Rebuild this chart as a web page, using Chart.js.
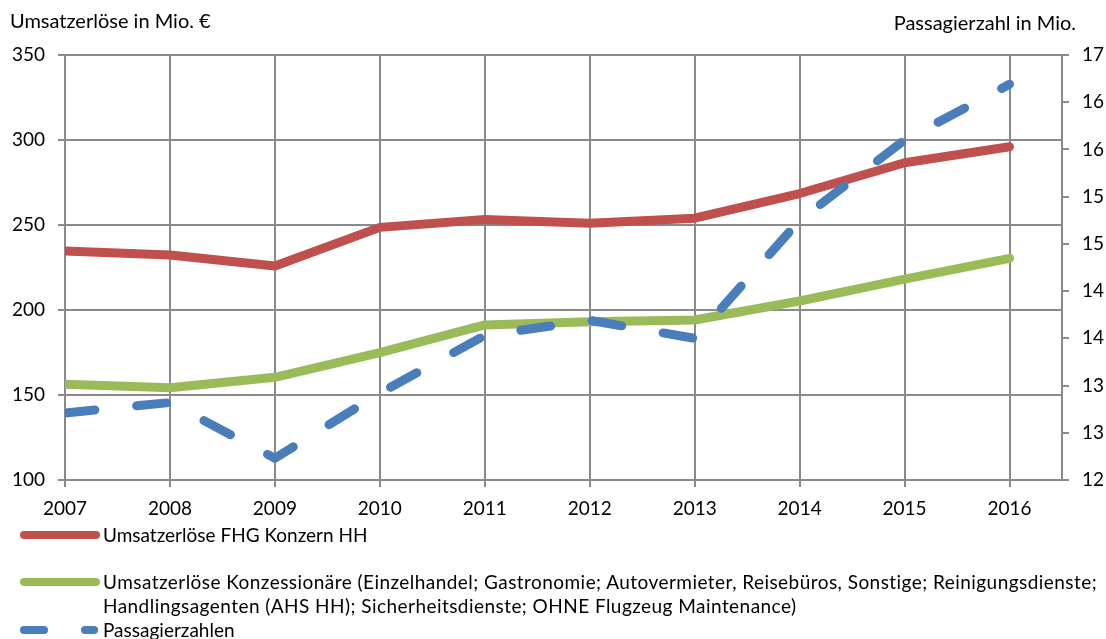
<!DOCTYPE html>
<html lang="de">
<head>
    <meta charset="UTF-8">
    <title>Umsatzerlöse und Passagierzahlen</title>
    <script src="https://cdn.jsdelivr.net/npm/chart.js"></script>
    <style>
        body {
            margin: 0;
            background: #fff;
            font-family: Lato, "Liberation Sans", sans-serif;
            color: #000;
        }
        .wrap {
            position: relative;
            width: 1106px;
            height: 639px;
        }
        .wrap canvas {
            position: absolute;
            left: 0;
            top: 0;
        }
        .axis-title {
            position: absolute;
            font-size: 20px;
            line-height: 22px;
            white-space: nowrap;
        }
        .legend-item {
            position: absolute;
            left: 0;
            width: 1106px;
        }
        .legend-line {
            position: absolute;
            height: 8px;
            border-radius: 4px;
        }
        .legend-text {
            position: absolute;
            left: 103px;
            font-size: 19px;
            line-height: 24px;
            white-space: nowrap;
        }
    </style>
</head>
<body>
    <div class="wrap">
        <canvas id="chart" width="1106" height="639"></canvas>
        <div class="axis-title" style="left:10px; top:9px;">Umsatzerlöse in Mio. €</div>
        <div class="axis-title" style="right:30px; top:11px;">Passagierzahl in Mio.</div>
        <div id="legend"></div>
    </div>

    <script>
        // values
        const years = [2007, 2008, 2009, 2010, 2011, 2012, 2013, 2014, 2015, 2016];
        const umsatzFHG = [234.7, 232.4, 225.9, 248.6, 253.3, 251.0, 254.0, 268.5, 286.6, 296.0];
        const umsatzKonzessionaere = [156.3, 154.3, 160.4, 174.9, 191.2, 193.1, 194.1, 205.3, 218.2, 230.4];
        const passagiere = [12.71, 12.82, 12.23, 12.92, 13.53, 13.69, 13.50, 14.75, 15.60, 16.19];

        const labelFHG = 'Umsatzerlöse FHG Konzern HH';
        const labelKonz = 'Umsatzerlöse Konzessionäre (Einzelhandel; Gastronomie; Autovermieter, Reisebüros, Sonstige; Reinigungsdienste;\nHandlingsagenten (AHS HH); Sicherheitsdienste; OHNE Flugzeug Maintenance)';
        const labelPax = 'Passagierzahlen';

        const red = '#C0504D';
        const green = '#9BBB59';
        const blue = '#4A7EBB';
        const gridColor = '#8A8A8A';
        const tickFont = { family: 'Lato', size: 19 };

        const toPoints = vals => vals.map((v, i) => ({ x: years[i], y: v }));

        const ctx = document.getElementById('chart').getContext('2d');
        const chart = new Chart(ctx, {
            type: 'line',
            data: {
                datasets: [
                    {
                        label: labelPax,
                        data: toPoints(passagiere),
                        yAxisID: 'y1',
                        borderColor: blue,
                        borderWidth: 9,
                        borderDash: [30, 42],
                        borderCapStyle: 'round',
                        borderJoinStyle: 'round',
                        pointRadius: 0,
                        order: 0
                    },
                    {
                        label: labelFHG,
                        data: toPoints(umsatzFHG),
                        yAxisID: 'y',
                        borderColor: red,
                        borderWidth: 9,
                        borderCapStyle: 'round',
                        borderJoinStyle: 'round',
                        pointRadius: 0,
                        order: 1
                    },
                    {
                        label: labelKonz,
                        data: toPoints(umsatzKonzessionaere),
                        yAxisID: 'y',
                        borderColor: green,
                        borderWidth: 9,
                        borderCapStyle: 'round',
                        borderJoinStyle: 'round',
                        pointRadius: 0,
                        order: 2
                    }
                ]
            },
            options: {
                responsive: false,
                animation: false,
                devicePixelRatio: 1,
                layout: {
                    padding: { left: 0, right: 0, top: 55, bottom: 114 }
                },
                plugins: {
                    legend: { display: false },
                    tooltip: { enabled: false }
                },
                scales: {
                    x: {
                        type: 'linear',
                        min: 2007,
                        max: 2016.5,
                        afterBuildTicks: scale => {
                            scale.ticks = years.map(v => ({ value: v }));
                        },
                        afterFit: scale => { scale.height = 45; },
                        grid: { color: gridColor, lineWidth: 2, tickLength: 7 },
                        border: { color: gridColor, width: 2 },
                        ticks: {
                            font: tickFont,
                            color: '#000',
                            padding: 10,
                            maxRotation: 0,
                            callback: v => String(v)
                        }
                    },
                    y: {
                        position: 'left',
                        min: 100,
                        max: 350,
                        afterFit: scale => { scale.width = 65; },
                        grid: { color: gridColor, lineWidth: 2, tickLength: 7 },
                        border: { color: gridColor, width: 2 },
                        ticks: {
                            stepSize: 50,
                            font: tickFont,
                            color: '#000',
                            padding: 13
                        }
                    },
                    y1: {
                        position: 'right',
                        min: 12,
                        max: 16.5,
                        afterFit: scale => { scale.width = 44; },
                        grid: { drawOnChartArea: false, color: gridColor, lineWidth: 2, tickLength: 7 },
                        border: { color: gridColor, width: 2 },
                        ticks: {
                            stepSize: 0.5,
                            font: tickFont,
                            color: '#000',
                            padding: 13,
                            callback: v => String(Math.round(v))
                        }
                    }
                }
            }
        });

        // legend below the chart, built from the datasets
        const legendRows = [
            { ds: chart.data.datasets[1], top: 523, spacing: 0 },
            { ds: chart.data.datasets[2], top: 570, spacing: 0.45 },
            { ds: chart.data.datasets[0], top: 618, spacing: 0 }
        ];
        const legend = document.getElementById('legend');
        legendRows.forEach(row => {
            const item = document.createElement('div');
            item.className = 'legend-item';
            item.style.top = row.top + 'px';
            if (row.ds.borderDash) {
                item.innerHTML =
                    '<div class="legend-line" style="left:20px;top:8px;width:28px;background:' + row.ds.borderColor + '"></div>' +
                    '<div class="legend-line" style="left:81px;top:8px;width:17px;background:' + row.ds.borderColor + '"></div>';
            } else {
                item.innerHTML = '<div class="legend-line" style="left:20px;top:8px;width:80px;background:' + row.ds.borderColor + '"></div>';
            }
            const text = document.createElement('div');
            text.className = 'legend-text';
            text.style.top = '0px';
            text.style.letterSpacing = row.spacing + 'px';
            text.innerHTML = row.ds.label.split('\n').join('<br>');
            item.appendChild(text);
            legend.appendChild(item);
        });
    </script>
</body>
</html>
